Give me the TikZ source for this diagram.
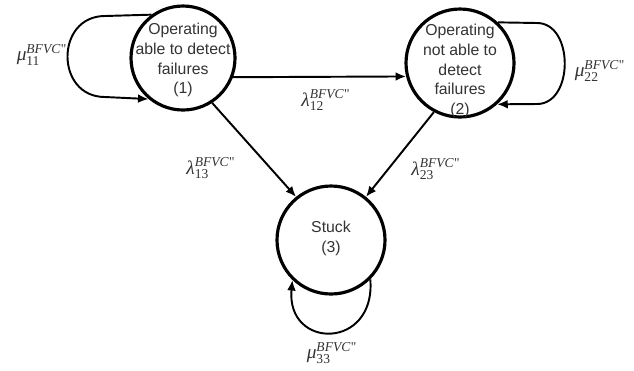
\documentclass[tikz,border=0pt]{standalone}
\usepackage{amsmath}
\usepackage[no-math]{fontspec}
\setmainfont{Liberation Sans}
\newfontfamily\tnr{Liberation Serif}
\usetikzlibrary{arrows.meta}
\newcommand{\rt}[2]{$\text{\tnr\itshape #1}_{\text{\tnr #2}}^{\text{\tnr\itshape BFVC}\kern0.3pt\text{\tnr\upshape "}}$}
\begin{document}
\begin{tikzpicture}[x=0.02cm,y=-0.02cm,
  state/.style={draw=black, line width=1.8pt, circle, inner sep=0pt},
  stxt/.style={align=center, font=\fontsize{9}{11.3}\selectfont, text=black!80},
  edge/.style={draw=black, line width=1.1pt, -{Latex[length=6pt,width=5pt]}},
  rate/.style={font=\fontsize{11}{13}\selectfont, text=black!80, inner sep=0pt}]
\useasboundingbox (0,0) rectangle (634,370);
% states
\node[state, minimum size=104*0.02cm] (n1) at (183,58) {};
\node[stxt] (t1) at (183,60) {Operating\\able to detect\\failures\\(1)};
\node[state, minimum size=108*0.02cm] (n2) at (460,63) {};
\node[stxt] (t2) at (460,71) {Operating\\not able to\\detect\\failures\\(2)};
\node[state, minimum size=108*0.02cm] (n3) at (331,240) {};
\node[stxt] (t3) at (331,238) {Stuck\\(3)};
% transitions
\draw[edge] (n1.-21) -- (n2.194);
\draw[edge] (n1.-57) -- (n3.129);
\draw[edge] (n2.-118) -- (n3.51);
% self loops
\draw[edge] (n1.126) -- (105,16) .. controls (55,16) and (55,97) .. (105,97) -- (n1.230);
\draw[edge] (n2.47) -- (537,23) .. controls (574,23) and (574,104) .. (537,104) -- (n2.-48);
\draw[edge] (n3.-45) .. controls (376,350) and (286,350) .. (n3.226);
% labels
\node[rate] (l11) at (42,55) {\rt{μ}{11}};
\node[rate] (l22) at (600,71) {\rt{μ}{22}};
\node[rate] (l12) at (326,100) {\rt{λ}{12}};
\node[rate] (l13) at (211,168) {\rt{λ}{13}};
\node[rate] (l23) at (436,169) {\rt{λ}{23}};
\node[rate] (l33) at (332,353) {\rt{μ}{33}};
\end{tikzpicture}
\end{document}
